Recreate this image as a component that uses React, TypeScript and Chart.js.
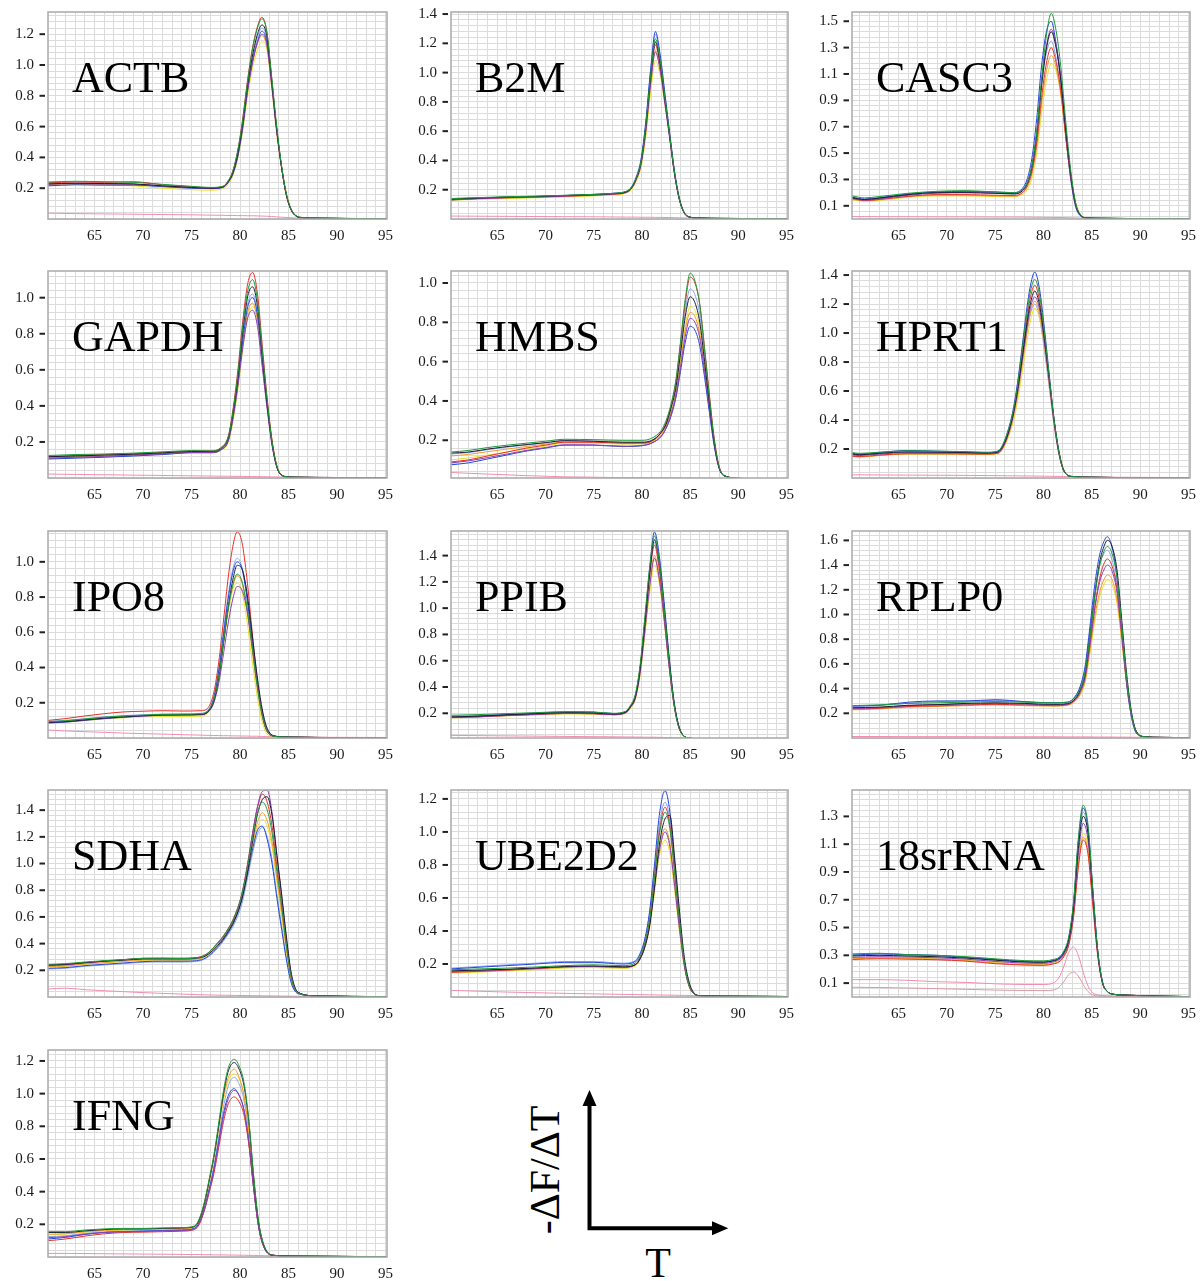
import React, { useEffect, useRef } from 'react';
import { Chart, registerables } from 'chart.js';

Chart.register(...registerables);
Chart.defaults.font.family = "'Liberation Serif', 'Times New Roman', serif";

// colours of the sample curves (green, red, blue, black, yellow, orange, purple, light blue) and no-template controls
const curveColors = ['#1f9a3a', '#e4312b', '#2446d8', '#1c1c38', '#eee030', '#f39a2c', '#8b3fb5', '#86a6f5'];
const curveDrawOrder = [1, 4, 5, 2, 7, 6, 3, 8];
const ntcColors = ['#f28db0', '#d99aa0'];
const xTickLabels = [65, 70, 75, 80, 85, 90, 95];

// ---------- ACTB ----------
const actbTemps = [60.2, 63, 66, 69, 72, 75, 77, 78.25, 78.75, 79.25, 79.75, 80.25, 80.75, 81.25, 81.75, 82.25, 82.75, 83.25, 83.75, 84.25, 84.75, 85.25, 85.75, 86.5, 88, 95];
const actbCurves = [
  [0.24, 0.245, 0.242, 0.238, 0.225, 0.212, 0.205, 0.213, 0.245, 0.31, 0.44, 0.63, 0.88, 1.09, 1.23, 1.30, 1.22, 0.93, 0.62, 0.36, 0.17, 0.065, 0.022, 0.009, 0.005, 0.002],
  [0.235, 0.24, 0.238, 0.242, 0.222, 0.21, 0.203, 0.212, 0.245, 0.31, 0.44, 0.64, 0.89, 1.10, 1.24, 1.31, 1.22, 0.92, 0.60, 0.35, 0.16, 0.06, 0.02, 0.008, 0.005, 0.002],
  [0.215, 0.222, 0.22, 0.22, 0.21, 0.2, 0.197, 0.205, 0.235, 0.29, 0.40, 0.58, 0.82, 1.01, 1.14, 1.22, 1.15, 0.89, 0.59, 0.35, 0.165, 0.065, 0.022, 0.009, 0.005, 0.002],
  [0.228, 0.232, 0.23, 0.228, 0.215, 0.205, 0.2, 0.21, 0.24, 0.30, 0.42, 0.61, 0.86, 1.05, 1.19, 1.26, 1.19, 0.91, 0.60, 0.35, 0.165, 0.062, 0.02, 0.008, 0.005, 0.002],
  [0.22, 0.225, 0.222, 0.215, 0.2, 0.19, 0.187, 0.197, 0.225, 0.28, 0.39, 0.56, 0.79, 0.97, 1.09, 1.15, 1.11, 0.88, 0.60, 0.36, 0.18, 0.07, 0.025, 0.01, 0.005, 0.002],
  [0.225, 0.23, 0.228, 0.225, 0.213, 0.203, 0.198, 0.208, 0.238, 0.30, 0.41, 0.59, 0.82, 1.00, 1.13, 1.19, 1.12, 0.86, 0.57, 0.34, 0.16, 0.06, 0.02, 0.008, 0.005, 0.002],
  [0.226, 0.23, 0.228, 0.226, 0.214, 0.204, 0.199, 0.208, 0.237, 0.295, 0.41, 0.59, 0.83, 1.01, 1.14, 1.20, 1.14, 0.88, 0.59, 0.35, 0.165, 0.063, 0.021, 0.008, 0.005, 0.002],
  [0.218, 0.224, 0.222, 0.222, 0.212, 0.202, 0.198, 0.207, 0.237, 0.295, 0.41, 0.60, 0.84, 1.03, 1.17, 1.24, 1.17, 0.90, 0.60, 0.35, 0.165, 0.064, 0.021, 0.008, 0.005, 0.002],
];
const actbNtc = [
  [0.038, 0.035, 0.033, 0.031, 0.029, 0.027, 0.025, 0.024, 0.023, 0.023, 0.022, 0.022, 0.021, 0.021, 0.02, 0.019, 0.018, 0.016, 0.014, 0.012, 0.01, 0.008, 0.006, 0.004, 0.003, 0.002],
];
const actbYTicks = [0.2, 0.4, 0.6, 0.8, 1.0, 1.2];

// ---------- B2M ----------
const b2mTemps = [60.2, 63, 66, 69, 72, 75, 77, 78.4, 78.9, 79.4, 79.9, 80.4, 80.9, 81.4, 81.9, 82.4, 82.9, 83.4, 83.9, 84.4, 85, 86, 88, 95];
const b2mCurves = [
  [0.14, 0.146, 0.152, 0.156, 0.162, 0.168, 0.175, 0.19, 0.215, 0.28, 0.39, 0.64, 0.98, 1.23, 1.08, 0.82, 0.56, 0.31, 0.13, 0.04, 0.012, 0.006, 0.004, 0.002],
  [0.132, 0.14, 0.146, 0.15, 0.156, 0.163, 0.17, 0.183, 0.208, 0.27, 0.38, 0.61, 0.95, 1.19, 1.04, 0.80, 0.55, 0.30, 0.13, 0.04, 0.012, 0.006, 0.004, 0.002],
  [0.13, 0.14, 0.148, 0.153, 0.16, 0.168, 0.175, 0.188, 0.215, 0.28, 0.40, 0.66, 1.02, 1.28, 1.12, 0.85, 0.58, 0.32, 0.14, 0.045, 0.013, 0.006, 0.004, 0.002],
  [0.137, 0.143, 0.15, 0.154, 0.16, 0.166, 0.173, 0.186, 0.212, 0.275, 0.385, 0.63, 0.97, 1.21, 1.06, 0.81, 0.555, 0.305, 0.13, 0.04, 0.012, 0.006, 0.004, 0.002],
  [0.128, 0.135, 0.14, 0.145, 0.15, 0.158, 0.165, 0.178, 0.2, 0.255, 0.35, 0.56, 0.86, 1.08, 0.98, 0.77, 0.55, 0.31, 0.14, 0.045, 0.014, 0.006, 0.004, 0.002],
  [0.13, 0.137, 0.143, 0.148, 0.154, 0.161, 0.168, 0.181, 0.205, 0.265, 0.37, 0.59, 0.92, 1.15, 1.02, 0.79, 0.55, 0.30, 0.13, 0.042, 0.013, 0.006, 0.004, 0.002],
  [0.133, 0.14, 0.146, 0.15, 0.157, 0.164, 0.171, 0.184, 0.208, 0.27, 0.37, 0.60, 0.92, 1.14, 1.01, 0.78, 0.54, 0.30, 0.13, 0.04, 0.012, 0.006, 0.004, 0.002],
  [0.138, 0.145, 0.15, 0.155, 0.161, 0.168, 0.176, 0.19, 0.22, 0.29, 0.41, 0.66, 1.01, 1.26, 1.10, 0.83, 0.56, 0.31, 0.13, 0.04, 0.012, 0.006, 0.004, 0.002],
];
const b2mNtc = [
  [0.02, 0.019, 0.018, 0.017, 0.016, 0.015, 0.014, 0.013, 0.013, 0.013, 0.012, 0.012, 0.012, 0.011, 0.011, 0.01, 0.01, 0.009, 0.008, 0.007, 0.006, 0.005, 0.004, 0.003],
];
const b2mYTicks = [0.2, 0.4, 0.6, 0.8, 1.0, 1.2, 1.4];

// ---------- CASC3 ----------
const casc3Temps = [60.2, 61.5, 63, 66, 69, 72, 75, 77, 77.8, 78.3, 78.8, 79.3, 79.8, 80.3, 80.8, 81.3, 81.8, 82.3, 82.8, 83.3, 83.8, 84.5, 86, 88, 95];
const casc3Curves = [
  [0.175, 0.16, 0.17, 0.195, 0.21, 0.215, 0.205, 0.2, 0.22, 0.27, 0.40, 0.66, 1.06, 1.39, 1.56, 1.43, 1.15, 0.74, 0.38, 0.13, 0.035, 0.009, 0.005, 0.004, 0.002],
  [0.155, 0.14, 0.148, 0.172, 0.185, 0.185, 0.18, 0.178, 0.2, 0.25, 0.36, 0.58, 0.92, 1.18, 1.30, 1.19, 0.97, 0.63, 0.33, 0.12, 0.03, 0.008, 0.005, 0.004, 0.002],
  [0.165, 0.15, 0.16, 0.19, 0.205, 0.21, 0.205, 0.2, 0.23, 0.30, 0.46, 0.76, 1.16, 1.42, 1.50, 1.33, 1.04, 0.64, 0.31, 0.10, 0.025, 0.008, 0.005, 0.004, 0.002],
  [0.16, 0.148, 0.158, 0.185, 0.2, 0.2, 0.195, 0.19, 0.212, 0.265, 0.39, 0.64, 1.01, 1.29, 1.42, 1.30, 1.05, 0.68, 0.35, 0.12, 0.03, 0.008, 0.005, 0.004, 0.002],
  [0.145, 0.135, 0.14, 0.165, 0.175, 0.175, 0.17, 0.168, 0.185, 0.22, 0.31, 0.50, 0.80, 1.05, 1.18, 1.12, 0.94, 0.64, 0.35, 0.14, 0.04, 0.01, 0.005, 0.004, 0.002],
  [0.15, 0.138, 0.145, 0.17, 0.18, 0.18, 0.175, 0.173, 0.195, 0.24, 0.34, 0.55, 0.87, 1.12, 1.24, 1.15, 0.94, 0.62, 0.33, 0.12, 0.03, 0.008, 0.005, 0.004, 0.002],
  [0.158, 0.143, 0.152, 0.18, 0.196, 0.2, 0.196, 0.192, 0.215, 0.27, 0.40, 0.65, 1.04, 1.31, 1.44, 1.32, 1.07, 0.69, 0.35, 0.12, 0.03, 0.008, 0.005, 0.004, 0.002],
  [0.168, 0.152, 0.162, 0.19, 0.205, 0.208, 0.2, 0.195, 0.22, 0.28, 0.41, 0.66, 1.02, 1.26, 1.35, 1.22, 0.98, 0.63, 0.32, 0.11, 0.028, 0.008, 0.005, 0.004, 0.002],
];
const casc3Ntc = [
  [0.018, 0.018, 0.017, 0.017, 0.016, 0.016, 0.015, 0.015, 0.014, 0.014, 0.014, 0.013, 0.013, 0.012, 0.012, 0.011, 0.011, 0.01, 0.009, 0.008, 0.007, 0.006, 0.005, 0.004, 0.003],
];
const casc3YTicks = [0.1, 0.3, 0.5, 0.7, 0.9, 1.1, 1.3, 1.5];

// ---------- GAPDH ----------
const gapdhTemps = [60.2, 63, 66, 69, 72, 75, 77, 78, 78.8, 79.3, 79.8, 80.3, 80.8, 81.3, 81.8, 82.3, 82.8, 83.3, 83.8, 84.3, 85, 86, 88, 95];
const gapdhCurves = [
  [0.125, 0.13, 0.133, 0.138, 0.145, 0.152, 0.15, 0.165, 0.23, 0.38, 0.59, 0.85, 1.04, 1.10, 0.98, 0.70, 0.43, 0.20, 0.065, 0.016, 0.006, 0.004, 0.003, 0.002],
  [0.12, 0.125, 0.13, 0.135, 0.142, 0.15, 0.15, 0.168, 0.235, 0.39, 0.61, 0.88, 1.08, 1.14, 1.02, 0.73, 0.44, 0.21, 0.065, 0.016, 0.006, 0.004, 0.003, 0.002],
  [0.105, 0.11, 0.115, 0.122, 0.13, 0.14, 0.14, 0.155, 0.21, 0.35, 0.54, 0.77, 0.95, 1.00, 0.90, 0.65, 0.40, 0.19, 0.06, 0.015, 0.006, 0.004, 0.003, 0.002],
  [0.118, 0.122, 0.127, 0.132, 0.139, 0.147, 0.147, 0.162, 0.225, 0.37, 0.57, 0.82, 1.01, 1.06, 0.95, 0.68, 0.41, 0.195, 0.06, 0.015, 0.006, 0.004, 0.003, 0.002],
  [0.11, 0.115, 0.12, 0.126, 0.133, 0.14, 0.14, 0.152, 0.2, 0.32, 0.5, 0.72, 0.89, 0.95, 0.88, 0.66, 0.42, 0.21, 0.07, 0.018, 0.007, 0.004, 0.003, 0.002],
  [0.112, 0.117, 0.122, 0.128, 0.135, 0.143, 0.143, 0.157, 0.21, 0.34, 0.53, 0.75, 0.92, 0.97, 0.87, 0.63, 0.39, 0.19, 0.06, 0.015, 0.006, 0.004, 0.003, 0.002],
  [0.11, 0.115, 0.12, 0.127, 0.134, 0.142, 0.142, 0.156, 0.21, 0.34, 0.52, 0.73, 0.89, 0.93, 0.84, 0.61, 0.38, 0.18, 0.06, 0.015, 0.006, 0.004, 0.003, 0.002],
  [0.108, 0.113, 0.118, 0.125, 0.132, 0.142, 0.142, 0.158, 0.22, 0.36, 0.56, 0.80, 0.97, 1.02, 0.91, 0.65, 0.40, 0.19, 0.06, 0.015, 0.006, 0.004, 0.003, 0.002],
];
const gapdhNtc = [
  [0.022, 0.02, 0.018, 0.016, 0.014, 0.012, 0.011, 0.01, 0.01, 0.009, 0.009, 0.009, 0.008, 0.008, 0.008, 0.007, 0.007, 0.006, 0.006, 0.005, 0.005, 0.004, 0.003, 0.002],
];
const gapdhYTicks = [0.2, 0.4, 0.6, 0.8, 1.0];

// ---------- HMBS ----------
const hmbsTemps = [60.2, 62, 64, 66, 68, 70, 72, 75, 78, 80, 81, 82, 82.5, 83, 83.5, 84, 84.5, 85, 85.5, 86, 86.5, 87, 87.5, 88, 88.5, 90, 95];
const hmbsCurves = [
  [0.14, 0.148, 0.163, 0.175, 0.185, 0.195, 0.205, 0.203, 0.2, 0.2, 0.21, 0.25, 0.30, 0.38, 0.50, 0.70, 0.92, 1.05, 1.01, 0.89, 0.66, 0.42, 0.2, 0.065, 0.02, 0.006, 0.003],
  [0.09, 0.1, 0.12, 0.14, 0.16, 0.175, 0.19, 0.19, 0.185, 0.185, 0.195, 0.24, 0.29, 0.37, 0.49, 0.69, 0.90, 1.03, 1.00, 0.89, 0.67, 0.43, 0.21, 0.07, 0.022, 0.006, 0.003],
  [0.075, 0.085, 0.105, 0.125, 0.145, 0.16, 0.175, 0.175, 0.168, 0.172, 0.185, 0.22, 0.26, 0.32, 0.41, 0.55, 0.70, 0.78, 0.76, 0.68, 0.52, 0.34, 0.17, 0.06, 0.02, 0.006, 0.003],
  [0.135, 0.14, 0.155, 0.168, 0.178, 0.188, 0.198, 0.195, 0.19, 0.19, 0.198, 0.24, 0.28, 0.36, 0.46, 0.64, 0.83, 0.93, 0.90, 0.80, 0.60, 0.39, 0.19, 0.06, 0.02, 0.006, 0.003],
  [0.1, 0.11, 0.125, 0.14, 0.155, 0.17, 0.185, 0.185, 0.18, 0.182, 0.19, 0.23, 0.27, 0.34, 0.44, 0.61, 0.78, 0.88, 0.86, 0.77, 0.58, 0.38, 0.19, 0.065, 0.02, 0.006, 0.003],
  [0.12, 0.128, 0.142, 0.155, 0.168, 0.18, 0.19, 0.19, 0.186, 0.188, 0.195, 0.23, 0.27, 0.34, 0.43, 0.59, 0.76, 0.85, 0.83, 0.74, 0.56, 0.37, 0.18, 0.06, 0.02, 0.006, 0.003],
  [0.085, 0.095, 0.112, 0.13, 0.148, 0.163, 0.177, 0.176, 0.17, 0.174, 0.186, 0.22, 0.26, 0.33, 0.42, 0.57, 0.73, 0.82, 0.80, 0.72, 0.55, 0.36, 0.18, 0.06, 0.02, 0.006, 0.003],
  [0.13, 0.137, 0.152, 0.165, 0.176, 0.186, 0.196, 0.195, 0.19, 0.19, 0.2, 0.24, 0.29, 0.37, 0.48, 0.66, 0.86, 0.97, 0.94, 0.84, 0.63, 0.41, 0.2, 0.065, 0.02, 0.006, 0.003],
];
const hmbsNtc = [
  [0.036, 0.032, 0.028, 0.024, 0.02, 0.017, 0.014, 0.012, 0.01, 0.01, 0.009, 0.009, 0.009, 0.009, 0.008, 0.008, 0.008, 0.008, 0.007, 0.007, 0.007, 0.006, 0.006, 0.005, 0.005, 0.004, 0.003],
];
const hmbsYTicks = [0.2, 0.4, 0.6, 0.8, 1.0];

// ---------- HPRT1 ----------
const hprt1Temps = [60.2, 61, 63, 66, 69, 72, 74, 75.3, 75.8, 76.3, 76.8, 77.3, 77.8, 78.3, 78.6, 79.1, 79.6, 80.1, 80.6, 81.1, 81.6, 82.1, 83, 85, 88, 95];
const hprt1Curves = [
  [0.175, 0.17, 0.178, 0.188, 0.185, 0.182, 0.178, 0.186, 0.23, 0.32, 0.44, 0.63, 0.89, 1.14, 1.27, 1.37, 1.26, 1.00, 0.70, 0.40, 0.18, 0.05, 0.01, 0.005, 0.003, 0.002],
  [0.15, 0.148, 0.158, 0.168, 0.168, 0.166, 0.165, 0.172, 0.21, 0.29, 0.42, 0.61, 0.86, 1.10, 1.23, 1.33, 1.22, 0.97, 0.68, 0.39, 0.17, 0.05, 0.01, 0.005, 0.003, 0.002],
  [0.17, 0.165, 0.175, 0.19, 0.185, 0.18, 0.175, 0.185, 0.23, 0.32, 0.45, 0.65, 0.91, 1.18, 1.31, 1.42, 1.30, 1.03, 0.71, 0.40, 0.18, 0.05, 0.01, 0.005, 0.003, 0.002],
  [0.165, 0.16, 0.17, 0.18, 0.178, 0.175, 0.172, 0.18, 0.22, 0.30, 0.42, 0.60, 0.83, 1.07, 1.19, 1.29, 1.19, 0.96, 0.68, 0.40, 0.18, 0.055, 0.01, 0.005, 0.003, 0.002],
  [0.15, 0.145, 0.155, 0.165, 0.165, 0.163, 0.162, 0.168, 0.2, 0.27, 0.37, 0.52, 0.73, 0.95, 1.07, 1.17, 1.10, 0.91, 0.66, 0.39, 0.19, 0.06, 0.012, 0.005, 0.003, 0.002],
  [0.148, 0.145, 0.155, 0.166, 0.166, 0.164, 0.163, 0.17, 0.205, 0.28, 0.39, 0.56, 0.78, 1.01, 1.13, 1.22, 1.13, 0.91, 0.64, 0.37, 0.17, 0.05, 0.01, 0.005, 0.003, 0.002],
  [0.158, 0.155, 0.165, 0.175, 0.174, 0.172, 0.17, 0.177, 0.215, 0.295, 0.41, 0.58, 0.81, 1.04, 1.16, 1.25, 1.16, 0.93, 0.66, 0.38, 0.17, 0.05, 0.01, 0.005, 0.003, 0.002],
  [0.168, 0.163, 0.172, 0.183, 0.18, 0.177, 0.174, 0.182, 0.22, 0.30, 0.41, 0.58, 0.80, 1.01, 1.12, 1.20, 1.10, 0.88, 0.62, 0.36, 0.16, 0.05, 0.01, 0.005, 0.003, 0.002],
];
const hprt1Ntc = [
  [0.022, 0.022, 0.021, 0.02, 0.019, 0.018, 0.017, 0.016, 0.016, 0.015, 0.015, 0.015, 0.014, 0.014, 0.014, 0.013, 0.013, 0.012, 0.012, 0.011, 0.011, 0.01, 0.009, 0.007, 0.005, 0.003],
];
const hprt1YTicks = [0.2, 0.4, 0.6, 0.8, 1.0, 1.2, 1.4];

// ---------- IPO8 ----------
const ipo8Temps = [60.2, 62, 64, 66, 68, 70, 72, 74, 76, 76.8, 77.3, 77.8, 78.3, 78.8, 79.3, 79.7, 80.2, 80.7, 81.2, 81.7, 82.2, 82.7, 83.5, 85, 88, 95];
const ipo8Curves = [
  [0.092, 0.098, 0.108, 0.118, 0.125, 0.13, 0.134, 0.135, 0.138, 0.162, 0.22, 0.35, 0.55, 0.74, 0.88, 0.93, 0.89, 0.75, 0.54, 0.32, 0.15, 0.05, 0.01, 0.005, 0.003, 0.002],
  [0.1, 0.11, 0.125, 0.138, 0.148, 0.152, 0.155, 0.153, 0.155, 0.18, 0.26, 0.43, 0.67, 0.92, 1.10, 1.17, 1.11, 0.91, 0.63, 0.36, 0.16, 0.05, 0.01, 0.005, 0.003, 0.002],
  [0.085, 0.09, 0.1, 0.11, 0.118, 0.125, 0.13, 0.132, 0.134, 0.16, 0.23, 0.38, 0.59, 0.80, 0.95, 1.00, 0.96, 0.80, 0.57, 0.34, 0.16, 0.05, 0.01, 0.005, 0.003, 0.002],
  [0.088, 0.093, 0.103, 0.113, 0.12, 0.127, 0.131, 0.132, 0.134, 0.155, 0.21, 0.34, 0.54, 0.75, 0.91, 0.98, 0.96, 0.83, 0.61, 0.38, 0.19, 0.07, 0.012, 0.005, 0.003, 0.002],
  [0.085, 0.09, 0.1, 0.108, 0.115, 0.12, 0.122, 0.122, 0.124, 0.15, 0.21, 0.35, 0.54, 0.72, 0.85, 0.88, 0.83, 0.67, 0.46, 0.26, 0.11, 0.03, 0.008, 0.005, 0.003, 0.002],
  [0.09, 0.095, 0.105, 0.114, 0.12, 0.126, 0.13, 0.13, 0.132, 0.158, 0.22, 0.36, 0.55, 0.74, 0.87, 0.92, 0.88, 0.73, 0.52, 0.31, 0.14, 0.045, 0.01, 0.005, 0.003, 0.002],
  [0.088, 0.093, 0.102, 0.112, 0.119, 0.125, 0.129, 0.13, 0.132, 0.152, 0.2, 0.31, 0.48, 0.66, 0.80, 0.86, 0.84, 0.73, 0.54, 0.34, 0.17, 0.06, 0.012, 0.005, 0.003, 0.002],
  [0.095, 0.1, 0.11, 0.12, 0.127, 0.132, 0.136, 0.137, 0.14, 0.166, 0.235, 0.39, 0.61, 0.82, 0.97, 1.02, 0.97, 0.81, 0.57, 0.34, 0.16, 0.05, 0.01, 0.005, 0.003, 0.002],
];
const ipo8Ntc = [
  [0.045, 0.04, 0.036, 0.032, 0.028, 0.025, 0.022, 0.019, 0.016, 0.015, 0.014, 0.014, 0.013, 0.013, 0.012, 0.012, 0.011, 0.011, 0.01, 0.01, 0.009, 0.008, 0.007, 0.005, 0.004, 0.003],
];
const ipo8YTicks = [0.2, 0.4, 0.6, 0.8, 1.0];

// ---------- PPIB ----------
const ppibTemps = [60.2, 63, 66, 69, 72, 75, 77, 78.3, 78.8, 79.3, 79.8, 80.3, 80.8, 81.3, 81.8, 82.3, 82.8, 83.3, 83.8, 84.3, 85, 86, 88, 95];
const ppibCurves = [
  [0.185, 0.19, 0.198, 0.205, 0.212, 0.21, 0.2, 0.215, 0.26, 0.34, 0.56, 0.93, 1.31, 1.55, 1.35, 1.00, 0.61, 0.29, 0.10, 0.03, 0.01, 0.005, 0.004, 0.002],
  [0.168, 0.173, 0.183, 0.19, 0.198, 0.196, 0.19, 0.205, 0.25, 0.33, 0.54, 0.89, 1.25, 1.48, 1.29, 0.95, 0.58, 0.28, 0.10, 0.03, 0.01, 0.005, 0.004, 0.002],
  [0.17, 0.178, 0.19, 0.2, 0.21, 0.208, 0.198, 0.212, 0.25, 0.32, 0.53, 0.90, 1.30, 1.58, 1.40, 1.05, 0.65, 0.31, 0.11, 0.03, 0.01, 0.005, 0.004, 0.002],
  [0.172, 0.178, 0.188, 0.197, 0.205, 0.202, 0.194, 0.208, 0.25, 0.32, 0.53, 0.88, 1.26, 1.52, 1.35, 1.01, 0.63, 0.30, 0.11, 0.03, 0.01, 0.005, 0.004, 0.002],
  [0.165, 0.17, 0.18, 0.188, 0.195, 0.193, 0.186, 0.198, 0.235, 0.3, 0.48, 0.79, 1.11, 1.33, 1.19, 0.90, 0.57, 0.28, 0.10, 0.03, 0.01, 0.005, 0.004, 0.002],
  [0.17, 0.175, 0.185, 0.193, 0.2, 0.198, 0.19, 0.203, 0.245, 0.315, 0.5, 0.83, 1.18, 1.40, 1.23, 0.92, 0.57, 0.28, 0.10, 0.03, 0.01, 0.005, 0.004, 0.002],
  [0.168, 0.173, 0.183, 0.192, 0.2, 0.198, 0.19, 0.203, 0.243, 0.31, 0.5, 0.82, 1.16, 1.38, 1.22, 0.92, 0.57, 0.28, 0.10, 0.03, 0.01, 0.005, 0.004, 0.002],
  [0.178, 0.183, 0.193, 0.202, 0.21, 0.208, 0.198, 0.212, 0.255, 0.33, 0.54, 0.89, 1.26, 1.50, 1.31, 0.97, 0.60, 0.29, 0.10, 0.03, 0.01, 0.005, 0.004, 0.002],
];
const ppibNtc = [
  [0.032, 0.03, 0.028, 0.026, 0.024, 0.022, 0.021, 0.02, 0.02, 0.019, 0.019, 0.018, 0.018, 0.018, 0.017, 0.016, 0.015, 0.014, 0.013, 0.012, 0.01, 0.008, 0.006, 0.004],
];
const ppibYTicks = [0.2, 0.4, 0.6, 0.8, 1.0, 1.2, 1.4];

// ---------- RPLP0 ----------
const rplp0Temps = [60.2, 63, 66, 69, 72, 75, 78, 81, 82.5, 83.3, 83.8, 84.3, 84.8, 85.3, 85.8, 86.3, 86.6, 87.1, 87.6, 88.1, 88.6, 89.1, 89.6, 90.5, 92, 95];
const rplp0Curves = [
  [0.262, 0.268, 0.28, 0.285, 0.29, 0.295, 0.29, 0.285, 0.29, 0.33, 0.40, 0.53, 0.82, 1.14, 1.39, 1.52, 1.55, 1.49, 1.30, 0.90, 0.49, 0.2, 0.05, 0.01, 0.005, 0.003],
  [0.235, 0.24, 0.255, 0.26, 0.268, 0.272, 0.268, 0.262, 0.27, 0.31, 0.37, 0.49, 0.76, 1.06, 1.29, 1.42, 1.45, 1.39, 1.21, 0.84, 0.46, 0.19, 0.05, 0.01, 0.005, 0.003],
  [0.26, 0.265, 0.29, 0.3, 0.3, 0.31, 0.295, 0.285, 0.29, 0.34, 0.42, 0.58, 0.90, 1.24, 1.48, 1.60, 1.63, 1.54, 1.30, 0.86, 0.44, 0.17, 0.04, 0.01, 0.005, 0.003],
  [0.245, 0.25, 0.265, 0.27, 0.28, 0.285, 0.28, 0.272, 0.278, 0.32, 0.39, 0.52, 0.82, 1.15, 1.42, 1.56, 1.60, 1.55, 1.36, 0.95, 0.52, 0.21, 0.055, 0.01, 0.005, 0.003],
  [0.24, 0.245, 0.26, 0.262, 0.27, 0.275, 0.27, 0.265, 0.27, 0.305, 0.35, 0.45, 0.68, 0.94, 1.14, 1.25, 1.28, 1.24, 1.09, 0.78, 0.44, 0.19, 0.05, 0.01, 0.005, 0.003],
  [0.228, 0.235, 0.25, 0.255, 0.262, 0.268, 0.262, 0.258, 0.265, 0.3, 0.355, 0.46, 0.71, 0.98, 1.18, 1.29, 1.32, 1.28, 1.12, 0.79, 0.44, 0.18, 0.05, 0.01, 0.005, 0.003],
  [0.24, 0.245, 0.262, 0.27, 0.275, 0.28, 0.275, 0.268, 0.274, 0.315, 0.375, 0.49, 0.75, 1.04, 1.26, 1.37, 1.40, 1.35, 1.18, 0.83, 0.46, 0.19, 0.05, 0.01, 0.005, 0.003],
  [0.255, 0.262, 0.282, 0.295, 0.298, 0.305, 0.292, 0.283, 0.288, 0.335, 0.41, 0.56, 0.86, 1.18, 1.40, 1.50, 1.52, 1.44, 1.22, 0.82, 0.43, 0.17, 0.04, 0.01, 0.005, 0.003],
];
const rplp0Ntc = [
  [0.012, 0.012, 0.011, 0.011, 0.011, 0.01, 0.01, 0.01, 0.009, 0.009, 0.009, 0.009, 0.009, 0.008, 0.008, 0.008, 0.008, 0.008, 0.007, 0.007, 0.007, 0.006, 0.006, 0.005, 0.004, 0.003],
];
const rplp0YTicks = [0.2, 0.4, 0.6, 0.8, 1.0, 1.2, 1.4, 1.6];

// ---------- SDHA ----------
const sdhaTemps = [60.2, 62, 64, 66, 68, 70, 72, 74, 75.5, 76.5, 77.5, 78.5, 79.5, 80.2, 80.8, 81.3, 81.8, 82.3, 82.8, 83.3, 83.8, 84.3, 84.8, 85.3, 86, 88, 95];
const sdhaCurves = [
  [0.245, 0.25, 0.262, 0.272, 0.28, 0.29, 0.29, 0.288, 0.292, 0.318, 0.39, 0.48, 0.61, 0.77, 0.99, 1.20, 1.38, 1.46, 1.40, 1.23, 0.94, 0.67, 0.37, 0.14, 0.03, 0.008, 0.003],
  [0.235, 0.24, 0.255, 0.268, 0.278, 0.288, 0.29, 0.29, 0.295, 0.32, 0.39, 0.48, 0.62, 0.78, 1.01, 1.23, 1.42, 1.52, 1.46, 1.28, 0.98, 0.69, 0.38, 0.14, 0.03, 0.008, 0.003],
  [0.215, 0.22, 0.235, 0.245, 0.255, 0.265, 0.268, 0.268, 0.272, 0.295, 0.36, 0.45, 0.58, 0.73, 0.93, 1.11, 1.25, 1.28, 1.18, 1.00, 0.74, 0.50, 0.27, 0.1, 0.025, 0.008, 0.003],
  [0.24, 0.245, 0.258, 0.268, 0.276, 0.285, 0.285, 0.285, 0.29, 0.31, 0.37, 0.46, 0.59, 0.74, 0.95, 1.17, 1.37, 1.48, 1.50, 1.36, 1.06, 0.76, 0.44, 0.17, 0.035, 0.008, 0.003],
  [0.225, 0.23, 0.245, 0.255, 0.265, 0.275, 0.275, 0.275, 0.28, 0.305, 0.37, 0.46, 0.59, 0.73, 0.93, 1.11, 1.27, 1.33, 1.28, 1.12, 0.86, 0.60, 0.33, 0.12, 0.025, 0.008, 0.003],
  [0.228, 0.232, 0.248, 0.258, 0.268, 0.278, 0.278, 0.278, 0.283, 0.308, 0.375, 0.465, 0.595, 0.74, 0.95, 1.14, 1.31, 1.38, 1.32, 1.16, 0.89, 0.63, 0.35, 0.13, 0.028, 0.008, 0.003],
  [0.238, 0.243, 0.257, 0.27, 0.28, 0.29, 0.29, 0.29, 0.294, 0.318, 0.385, 0.475, 0.61, 0.77, 1.00, 1.23, 1.43, 1.54, 1.55, 1.38, 1.06, 0.75, 0.42, 0.16, 0.033, 0.008, 0.003],
  [0.21, 0.215, 0.23, 0.24, 0.25, 0.26, 0.262, 0.262, 0.266, 0.29, 0.35, 0.44, 0.56, 0.70, 0.90, 1.08, 1.22, 1.27, 1.20, 1.03, 0.77, 0.53, 0.29, 0.11, 0.025, 0.008, 0.003],
];
const sdhaNtc = [
  [0.06, 0.066, 0.055, 0.047, 0.04, 0.033, 0.027, 0.022, 0.018, 0.016, 0.014, 0.013, 0.012, 0.011, 0.011, 0.01, 0.01, 0.009, 0.009, 0.008, 0.008, 0.007, 0.007, 0.006, 0.005, 0.004, 0.003],
];
const sdhaYTicks = [0.2, 0.4, 0.6, 0.8, 1.0, 1.2, 1.4];

// ---------- UBE2D2 ----------
const ube2d2Temps = [60.2, 63, 66, 69, 72, 75, 78, 79.3, 79.8, 80.3, 80.8, 81.3, 81.8, 82.4, 82.9, 83.4, 83.9, 84.4, 84.9, 85.4, 86, 88, 95];
const ube2d2Curves = [
  [0.165, 0.17, 0.175, 0.182, 0.19, 0.195, 0.19, 0.205, 0.245, 0.33, 0.47, 0.72, 0.98, 1.12, 1.02, 0.75, 0.46, 0.21, 0.07, 0.02, 0.008, 0.005, 0.003],
  [0.15, 0.155, 0.162, 0.172, 0.182, 0.185, 0.18, 0.195, 0.235, 0.32, 0.47, 0.73, 1.00, 1.15, 1.04, 0.76, 0.46, 0.21, 0.07, 0.02, 0.008, 0.005, 0.003],
  [0.17, 0.18, 0.19, 0.2, 0.21, 0.21, 0.2, 0.215, 0.26, 0.35, 0.52, 0.80, 1.10, 1.25, 1.12, 0.80, 0.47, 0.20, 0.07, 0.02, 0.008, 0.005, 0.003],
  [0.158, 0.163, 0.168, 0.176, 0.185, 0.188, 0.183, 0.195, 0.23, 0.30, 0.43, 0.66, 0.92, 1.08, 1.10, 0.84, 0.52, 0.24, 0.09, 0.025, 0.008, 0.005, 0.003],
  [0.145, 0.15, 0.158, 0.165, 0.175, 0.178, 0.173, 0.188, 0.225, 0.3, 0.42, 0.63, 0.85, 0.95, 0.87, 0.64, 0.39, 0.18, 0.06, 0.02, 0.008, 0.005, 0.003],
  [0.15, 0.155, 0.163, 0.17, 0.18, 0.183, 0.178, 0.192, 0.23, 0.31, 0.44, 0.67, 0.90, 1.02, 0.93, 0.69, 0.42, 0.19, 0.065, 0.02, 0.008, 0.005, 0.003],
  [0.155, 0.16, 0.166, 0.174, 0.183, 0.186, 0.181, 0.195, 0.232, 0.31, 0.44, 0.66, 0.88, 1.00, 0.91, 0.67, 0.41, 0.19, 0.065, 0.02, 0.008, 0.005, 0.003],
  [0.175, 0.185, 0.195, 0.205, 0.215, 0.215, 0.205, 0.22, 0.265, 0.35, 0.51, 0.77, 1.04, 1.18, 1.07, 0.78, 0.47, 0.21, 0.07, 0.02, 0.008, 0.005, 0.003],
];
const ube2d2Ntc = [
  [0.04, 0.035, 0.03, 0.026, 0.022, 0.019, 0.016, 0.015, 0.014, 0.014, 0.013, 0.013, 0.012, 0.012, 0.011, 0.011, 0.01, 0.01, 0.009, 0.008, 0.007, 0.005, 0.003],
];
const ube2d2YTicks = [0.2, 0.4, 0.6, 0.8, 1.0, 1.2];

// ---------- 18srRNA ----------
const rrnaTemps = [60.2, 63, 66, 69, 72, 75, 78, 80, 81, 81.6, 82.1, 82.6, 83.1, 83.6, 84.1, 84.6, 85.1, 85.6, 86.1, 86.6, 87.2, 88, 90, 92, 95];
const rrnaCurves = [
  [0.31, 0.315, 0.305, 0.3, 0.29, 0.275, 0.262, 0.26, 0.27, 0.285, 0.33, 0.43, 0.68, 1.14, 1.38, 1.24, 0.78, 0.34, 0.11, 0.04, 0.02, 0.015, 0.01, 0.006, 0.003],
  [0.27, 0.275, 0.272, 0.268, 0.258, 0.24, 0.23, 0.228, 0.238, 0.252, 0.29, 0.37, 0.57, 0.93, 1.13, 1.03, 0.66, 0.30, 0.1, 0.04, 0.02, 0.015, 0.01, 0.006, 0.003],
  [0.3, 0.31, 0.305, 0.3, 0.285, 0.27, 0.255, 0.252, 0.262, 0.28, 0.325, 0.42, 0.67, 1.12, 1.36, 1.22, 0.77, 0.34, 0.11, 0.04, 0.02, 0.015, 0.01, 0.006, 0.003],
  [0.295, 0.3, 0.295, 0.29, 0.28, 0.265, 0.252, 0.25, 0.26, 0.275, 0.315, 0.41, 0.64, 1.07, 1.30, 1.18, 0.75, 0.33, 0.105, 0.04, 0.02, 0.015, 0.01, 0.006, 0.003],
  [0.28, 0.285, 0.282, 0.275, 0.265, 0.25, 0.238, 0.235, 0.245, 0.26, 0.3, 0.38, 0.59, 0.97, 1.18, 1.08, 0.70, 0.32, 0.105, 0.04, 0.02, 0.015, 0.01, 0.006, 0.003],
  [0.275, 0.28, 0.278, 0.272, 0.262, 0.245, 0.233, 0.23, 0.24, 0.255, 0.295, 0.375, 0.58, 0.95, 1.15, 1.05, 0.68, 0.31, 0.1, 0.04, 0.02, 0.015, 0.01, 0.006, 0.003],
  [0.285, 0.29, 0.288, 0.282, 0.272, 0.256, 0.244, 0.242, 0.252, 0.268, 0.305, 0.39, 0.61, 1.02, 1.25, 1.13, 0.72, 0.32, 0.1, 0.04, 0.02, 0.015, 0.01, 0.006, 0.003],
  [0.305, 0.312, 0.302, 0.296, 0.286, 0.27, 0.257, 0.254, 0.265, 0.282, 0.325, 0.42, 0.66, 1.10, 1.33, 1.20, 0.76, 0.34, 0.11, 0.04, 0.02, 0.015, 0.01, 0.006, 0.003],
];
const rrnaNtc = [
  [0.125, 0.125, 0.12, 0.11, 0.105, 0.095, 0.09, 0.09, 0.1, 0.14, 0.22, 0.32, 0.36, 0.30, 0.18, 0.08, 0.03, 0.015, 0.01, 0.008, 0.007, 0.006, 0.005, 0.004, 0.003],
  [0.07, 0.068, 0.065, 0.06, 0.055, 0.05, 0.047, 0.046, 0.05, 0.07, 0.11, 0.16, 0.18, 0.15, 0.09, 0.04, 0.015, 0.008, 0.006, 0.005, 0.004, 0.004, 0.003, 0.003, 0.002],
];
const rrnaYTicks = [0.1, 0.3, 0.5, 0.7, 0.9, 1.1, 1.3];

// ---------- IFNG ----------
const ifngTemps = [60.2, 62, 64, 66, 68, 70, 72, 74, 75.3, 75.8, 76.3, 76.8, 77.3, 77.8, 78.3, 78.8, 79.4, 79.9, 80.4, 80.9, 81.4, 81.9, 82.5, 83.5, 86, 95];
const ifngCurves = [
  [0.155, 0.155, 0.165, 0.172, 0.175, 0.175, 0.178, 0.18, 0.19, 0.235, 0.33, 0.47, 0.62, 0.82, 1.02, 1.16, 1.21, 1.17, 1.07, 0.84, 0.50, 0.22, 0.065, 0.01, 0.005, 0.002],
  [0.1, 0.11, 0.128, 0.142, 0.15, 0.152, 0.155, 0.158, 0.168, 0.2, 0.28, 0.39, 0.51, 0.67, 0.83, 0.94, 0.98, 0.95, 0.87, 0.69, 0.42, 0.19, 0.055, 0.01, 0.005, 0.002],
  [0.11, 0.12, 0.138, 0.15, 0.155, 0.158, 0.162, 0.165, 0.175, 0.21, 0.29, 0.41, 0.54, 0.71, 0.88, 0.99, 1.03, 0.99, 0.90, 0.70, 0.42, 0.19, 0.055, 0.01, 0.005, 0.002],
  [0.15, 0.15, 0.16, 0.168, 0.172, 0.172, 0.175, 0.178, 0.186, 0.228, 0.32, 0.46, 0.61, 0.80, 1.00, 1.14, 1.19, 1.15, 1.05, 0.83, 0.49, 0.22, 0.065, 0.01, 0.005, 0.002],
  [0.135, 0.14, 0.152, 0.16, 0.165, 0.168, 0.17, 0.172, 0.182, 0.225, 0.32, 0.45, 0.6, 0.78, 0.96, 1.08, 1.12, 1.09, 0.99, 0.78, 0.47, 0.21, 0.065, 0.01, 0.005, 0.002],
  [0.14, 0.143, 0.155, 0.163, 0.168, 0.17, 0.172, 0.175, 0.185, 0.23, 0.33, 0.47, 0.62, 0.80, 0.98, 1.10, 1.15, 1.10, 0.99, 0.77, 0.45, 0.2, 0.06, 0.01, 0.005, 0.002],
  [0.118, 0.125, 0.14, 0.15, 0.155, 0.156, 0.16, 0.162, 0.172, 0.205, 0.285, 0.40, 0.53, 0.69, 0.86, 0.97, 1.02, 0.99, 0.90, 0.71, 0.43, 0.19, 0.055, 0.01, 0.005, 0.002],
  [0.125, 0.13, 0.145, 0.155, 0.16, 0.162, 0.165, 0.168, 0.178, 0.215, 0.3, 0.42, 0.56, 0.74, 0.92, 1.05, 1.10, 1.06, 0.96, 0.75, 0.45, 0.2, 0.06, 0.01, 0.005, 0.002],
];
const ifngNtc = [
  [0.022, 0.022, 0.021, 0.02, 0.019, 0.018, 0.017, 0.016, 0.015, 0.015, 0.014, 0.014, 0.013, 0.013, 0.013, 0.012, 0.012, 0.011, 0.011, 0.01, 0.01, 0.009, 0.008, 0.007, 0.005, 0.003],
];
const ifngYTicks = [0.2, 0.4, 0.6, 0.8, 1.0, 1.2];

// ---------- layout ----------
const colLeft = [48, 451, 852];
const colWidth = [339, 337, 338];
const rowTop = [12, 271, 531, 790, 1050];
const plotHeight = 207;
const X_MIN = 60.2;
const X_MAX = 95.15;
const TOP_PAD = 12;

type PanelCfg = {
  name: string; temps: number[]; curves: number[][]; ntc: number[][];
  yTicks: number[]; yMin: number; yMax: number; col: number; row: number;
};

const panels: PanelCfg[] = [
  { name: 'ACTB', temps: actbTemps, curves: actbCurves, ntc: actbNtc, yTicks: actbYTicks, yMin: 0, yMax: 1.344, col: 0, row: 0 },
  { name: 'B2M', temps: b2mTemps, curves: b2mCurves, ntc: b2mNtc, yTicks: b2mYTicks, yMin: 0, yMax: 1.414, col: 1, row: 0 },
  { name: 'CASC3', temps: casc3Temps, curves: casc3Curves, ntc: casc3Ntc, yTicks: casc3YTicks, yMin: 0, yMax: 1.57, col: 2, row: 0 },
  { name: 'GAPDH', temps: gapdhTemps, curves: gapdhCurves, ntc: gapdhNtc, yTicks: gapdhYTicks, yMin: 0, yMax: 1.148, col: 0, row: 1 },
  { name: 'HMBS', temps: hmbsTemps, curves: hmbsCurves, ntc: hmbsNtc, yTicks: hmbsYTicks, yMin: 0.008, yMax: 1.061, col: 1, row: 1 },
  { name: 'HPRT1', temps: hprt1Temps, curves: hprt1Curves, ntc: hprt1Ntc, yTicks: hprt1YTicks, yMin: 0, yMax: 1.428, col: 2, row: 1 },
  { name: 'IPO8', temps: ipo8Temps, curves: ipo8Curves, ntc: ipo8Ntc, yTicks: ipo8YTicks, yMin: 0, yMax: 1.175, col: 0, row: 2 },
  { name: 'PPIB', temps: ppibTemps, curves: ppibCurves, ntc: ppibNtc, yTicks: ppibYTicks, yMin: 0.012, yMax: 1.587, col: 1, row: 2 },
  { name: 'RPLP0', temps: rplp0Temps, curves: rplp0Curves, ntc: rplp0Ntc, yTicks: rplp0YTicks, yMin: 0, yMax: 1.676, col: 2, row: 2 },
  { name: 'SDHA', temps: sdhaTemps, curves: sdhaCurves, ntc: sdhaNtc, yTicks: sdhaYTicks, yMin: 0, yMax: 1.551, col: 0, row: 3 },
  { name: 'UBE2D2', temps: ube2d2Temps, curves: ube2d2Curves, ntc: ube2d2Ntc, yTicks: ube2d2YTicks, yMin: 0, yMax: 1.254, col: 1, row: 3 },
  { name: '18srRNA', temps: rrnaTemps, curves: rrnaCurves, ntc: rrnaNtc, yTicks: rrnaYTicks, yMin: 0, yMax: 1.49, col: 2, row: 3 },
  { name: 'IFNG', temps: ifngTemps, curves: ifngCurves, ntc: ifngNtc, yTicks: ifngYTicks, yMin: 0, yMax: 1.267, col: 0, row: 4 },
];

const FONT = "'Liberation Serif', 'Times New Roman', serif";

function minorTicks(min: number, max: number, first: number, step: number) {
  const out: number[] = [];
  let v = first;
  while (v - step >= min - 1e-9) v -= step;
  for (; v <= max + 1e-9; v += step) out.push(Math.round(v * 10000) / 10000);
  return out;
}

function Panel({ cfg }: { cfg: PanelCfg }) {
  const ref = useRef<HTMLCanvasElement | null>(null);
  const L = colLeft[cfg.col];
  const W = colWidth[cfg.col];
  const T = rowTop[cfg.row];
  const cw = W + 57;
  const ch = plotHeight + TOP_PAD + 30 + 10;

  useEffect(() => {
    if (!ref.current) return;
    const datasets: any[] = [];
    cfg.ntc.forEach((vals, k) => {
      datasets.push({
        data: cfg.temps.map((t, i) => ({ x: t, y: vals[i] })),
        borderColor: ntcColors[k], borderWidth: 1, pointRadius: 0,
        cubicInterpolationMode: 'monotone', fill: false, order: 20,
      });
    });
    cfg.curves.forEach((vals, k) => {
      datasets.push({
        data: cfg.temps.map((t, i) => ({ x: t, y: vals[i] })),
        borderColor: curveColors[k], borderWidth: 1, pointRadius: 0,
        cubicInterpolationMode: 'monotone', fill: false, order: curveDrawOrder[k],
      });
    });
    const xGrid: number[] = [];
    for (let v = 61; v <= 95; v++) xGrid.push(v);
    const yGrid = minorTicks(cfg.yMin, cfg.yMax, cfg.yTicks[0], 0.04);
    const isMajor = (v: number) => cfg.yTicks.some((m) => Math.abs(m - v) < 1e-6);

    const framePlugin = {
      id: 'frame',
      afterDraw(chart: any) {
        const { ctx, chartArea: a, scales } = chart;
        ctx.save();
        ctx.strokeStyle = '#a9a9a9';
        ctx.lineWidth = 1.5;
        ctx.strokeRect(a.left, a.top, a.right - a.left, a.bottom - a.top);
        ctx.strokeStyle = '#222';
        ctx.lineWidth = 2;
        cfg.yTicks.forEach((v) => {
          const y = scales.y.getPixelForValue(v);
          ctx.beginPath();
          ctx.moveTo(a.left - 8.5, y);
          ctx.lineTo(a.left - 3, y);
          ctx.stroke();
        });
        ctx.restore();
      },
    };

    const chart = new Chart(ref.current, {
      type: 'line',
      data: { datasets },
      options: {
        animation: false,
        responsive: false,
        maintainAspectRatio: false,
        events: [],
        layout: { padding: { left: 7, top: TOP_PAD, right: 10, bottom: 16 } },
        plugins: { legend: { display: false }, tooltip: { enabled: false }, title: { display: false } },
        scales: {
          x: {
            type: 'linear', min: X_MIN, max: X_MAX, bounds: 'data',
            afterBuildTicks: (s: any) => { s.ticks = xGrid.map((v) => ({ value: v })); },
            afterFit: (s: any) => { s.height = 24; s.paddingLeft = 0; s.paddingRight = 0; },
            ticks: {
              autoSkip: false, maxRotation: 0, minRotation: 0, padding: 8,
              color: '#1a1a1a', font: { family: FONT, size: 15 },
              callback: (v: any) => (xTickLabels.includes(Number(v)) ? String(v) : ''),
            },
            grid: { color: '#dcdcdc', lineWidth: 1, drawTicks: false },
            border: { display: false },
          },
          y: {
            type: 'linear', min: cfg.yMin, max: cfg.yMax, bounds: 'data',
            afterBuildTicks: (s: any) => { s.ticks = yGrid.map((v) => ({ value: v })); },
            afterFit: (s: any) => { s.width = 40; s.paddingTop = 0; s.paddingBottom = 0; },
            ticks: {
              autoSkip: false, padding: 14,
              color: '#1a1a1a', font: { family: FONT, size: 15 },
              callback: (v: any) => (isMajor(Number(v)) ? Number(v).toFixed(1) : ''),
            },
            grid: { color: '#dcdcdc', lineWidth: 1, drawTicks: false },
            border: { display: false },
          },
        },
      } as any,
      plugins: [framePlugin],
    });
    return () => chart.destroy();
  }, []);

  return (
    <>
      <canvas
        ref={ref}
        width={cw}
        height={ch}
        style={{ position: 'absolute', left: L - 47, top: T - TOP_PAD, width: cw, height: ch }}
      />
      <div
        style={{
          position: 'absolute', left: L + 24, top: T + 44, fontFamily: FONT, fontSize: 44,
          lineHeight: '44px', color: '#000', whiteSpace: 'nowrap',
        }}
      >
        {cfg.name}
      </div>
    </>
  );
}

export default function App() {
  return (
    <div style={{ position: 'absolute', left: 0, top: 0, width: 1204, height: 1281, background: '#fff', overflow: 'hidden' }}>
      {panels.map((p) => (
        <Panel key={p.name} cfg={p} />
      ))}
      <svg style={{ position: 'absolute', left: 570, top: 1080 }} width={170} height={170}>
        <polyline points="19.5,24 19.5,148.3 144,148.3" fill="none" stroke="#000" strokeWidth={4} strokeLinejoin="miter" />
        <polygon points="19.5,10 12.5,26 26.5,26" fill="#000" />
        <polygon points="158.3,148.3 142,141.3 142,155.3" fill="#000" />
      </svg>
      <div
        style={{
          position: 'absolute', left: 445, top: 1149, width: 200, height: 42, lineHeight: '42px',
          textAlign: 'center', fontFamily: FONT, fontSize: 42, color: '#000', transform: 'rotate(-90deg)',
          whiteSpace: 'nowrap',
        }}
      >
        -ΔF/ΔT
      </div>
      <div
        style={{
          position: 'absolute', left: 628, top: 1242, width: 60, height: 42, lineHeight: '42px',
          textAlign: 'center', fontFamily: FONT, fontSize: 42, color: '#000',
        }}
      >
        T
      </div>
    </div>
  );
}
